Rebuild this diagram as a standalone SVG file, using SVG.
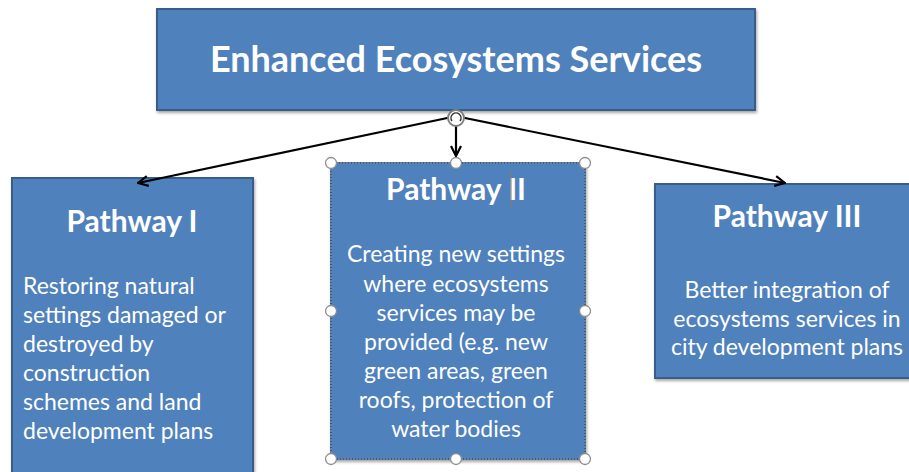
<svg xmlns="http://www.w3.org/2000/svg" width="909" height="472" viewBox="0 0 909 472">
<defs>
<style>
.box{fill:#4F81BD;stroke:#385D8A;stroke-width:2}
.title{font-family:Lato,"Open Sans",sans-serif;font-weight:bold;fill:#fff}
.body{font-family:Lato,"Open Sans",sans-serif;fill:#fff;font-size:23px}
.conn{stroke:#000;stroke-width:2.2;fill:none}
.handle{fill:#fff;stroke:#8c8c8c;stroke-width:1.3}
</style>
<marker id="arr" viewBox="0 0 12 12" refX="11" refY="6" markerWidth="12" markerHeight="12" markerUnits="userSpaceOnUse" orient="auto">
<path d="M1,1 L11,6 L1,11" fill="none" stroke="#000" stroke-width="2.2"/>
</marker>
<filter id="sh" x="-5%" y="-5%" width="110%" height="110%">
<feDropShadow dx="1" dy="2" stdDeviation="1.5" flood-color="#000" flood-opacity="0.35"/>
</filter>
</defs>
<rect width="909" height="472" fill="#fff"/>
<g id="top">
<rect class="box" x="157" y="9" width="598" height="101" filter="url(#sh)"/>
<text class="title" x="456" y="72" font-size="36" text-anchor="middle">Enhanced Ecosystems Services</text>
</g>
<g id="pathway1">
<rect class="box" x="12" y="178" width="241" height="300" filter="url(#sh)"/>
<text class="title" x="132" y="232" font-size="30" text-anchor="middle">Pathway I</text>
<text class="body" x="23" y="294">Restoring natural</text>
<text class="body" x="23" y="323">settings damaged or</text>
<text class="body" x="23" y="352">destroyed by</text>
<text class="body" x="23" y="381">construction</text>
<text class="body" x="23" y="410">schemes and land</text>
<text class="body" x="23" y="439">development plans</text>
</g>
<g id="pathway2">
<rect class="box" x="331" y="163" width="254" height="296" filter="url(#sh)"/>
<rect x="331" y="163" width="254" height="296" fill="none" stroke="#9aa8b8" stroke-width="1" stroke-dasharray="2 1"/>
<text class="title" x="456" y="200" font-size="30" text-anchor="middle">Pathway II</text>
<line x1="511" y1="171" x2="511" y2="208" stroke="#8a7a6a" stroke-width="1"/>
<g class="body" text-anchor="middle">
<text x="456" y="262">Creating new settings</text>
<text x="456" y="292">where ecosystems</text>
<text x="456" y="321">services may be</text>
<text x="456" y="350">provided (e.g. new</text>
<text x="456" y="379">green areas, green</text>
<text x="456" y="408">roofs, protection of</text>
<text x="456" y="437">water bodies</text>
</g>
</g>
<g id="pathway3">
<rect class="box" x="655" y="184" width="260" height="194" filter="url(#sh)"/>
<text class="title" x="787" y="227" font-size="30" text-anchor="middle">Pathway III</text>
<g class="body" text-anchor="middle">
<text x="787" y="298">Better integration of</text>
<text x="787" y="327">ecosystems services in</text>
<text x="787" y="355">city development plans</text>
</g>
</g>
<g id="connectors">
<line class="conn" x1="452" y1="117" x2="138" y2="183" marker-end="url(#arr)"/>
<line class="conn" x1="460" y1="117" x2="785" y2="183" marker-end="url(#arr)"/>
<line class="conn" x1="456" y1="126" x2="456" y2="156" stroke-width="1.5" marker-end="url(#arr)"/>
</g>
<g id="selection">
<circle class="handle" cx="331" cy="163" r="5.5"/>
<circle class="handle" cx="456" cy="163" r="5.5"/>
<circle class="handle" cx="585" cy="163" r="5.5"/>
<circle class="handle" cx="331" cy="311" r="5.5"/>
<circle class="handle" cx="585" cy="311" r="5.5"/>
<circle class="handle" cx="331" cy="459" r="5.5"/>
<circle class="handle" cx="456" cy="459" r="5.5"/>
<circle class="handle" cx="585" cy="459" r="5.5"/>
<circle cx="456" cy="118" r="8" fill="#fff" stroke="#7f7f7f" stroke-width="2"/>
<path d="M452,121 A5,5 0 1 1 460,121" fill="none" stroke="#333" stroke-width="1.5"/>
</g>
</svg>
